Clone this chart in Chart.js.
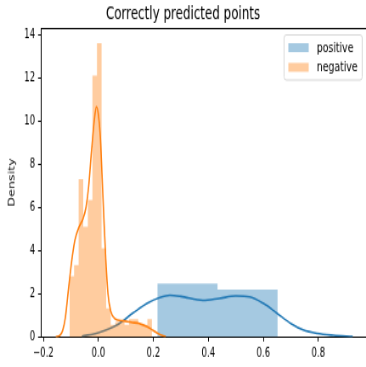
<!DOCTYPE html>
<html>
<head>
<meta charset="utf-8">
<script src="https://cdn.jsdelivr.net/npm/chart.js@4.4.1/dist/chart.umd.min.js"></script>
<style>
  html, body { margin: 0; padding: 0; background: #fff; width: 366px; height: 367px; overflow: hidden; }
  /* the reference figure was resized to 366x367 from a wider, shorter figure */
  #distChart { display: block; transform-origin: 0 0; transform: scale(0.8492, 1.2699); }
</style>
</head>
<body>
<canvas id="distChart" width="431" height="289"></canvas>
<script>
// values (density scale)
const seriesLabels = ['positive', 'negative'];

// histogram bin edges and bar heights
const posEdges = [0.2145, 0.4333, 0.652];
const posHeights = [2.48, 2.2];
const negEdges = [-0.105, -0.0883, -0.0717, -0.055, -0.0383, -0.0217, -0.005, 0.0117, 0.0283, 0.045,
                  0.0617, 0.0783, 0.095, 0.1117, 0.1283, 0.145, 0.1617, 0.1783, 0.195];
const negHeights = [2.82, 3.33, 7.31, 5.1, 6.34, 12.1, 13.6, 4.1, 1.33,
                    0.56, 0.7, 0.7, 0.56, 0.83, 0.83, 0.56, 0.56, 0.83];

// kde curves
const posKdeX = [-0.06, 0.0, 0.067, 0.127, 0.18, 0.224, 0.26, 0.3, 0.38, 0.44, 0.5, 0.55, 0.6, 0.65, 0.7, 0.745, 0.795, 0.855, 0.925];
const posKdeY = [0.04, 0.2, 0.55, 1.12, 1.58, 1.83, 1.93, 1.88, 1.7, 1.79, 1.9, 1.86, 1.56, 1.1, 0.63, 0.33, 0.17, 0.08, 0.02];
const negKdeX = [-0.155, -0.14, -0.13, -0.12, -0.108, -0.095, -0.085, -0.07, -0.055, -0.045, -0.035, -0.025, -0.015, -0.007,
                 0.0, 0.007, 0.013, 0.02, 0.027, 0.035, 0.045, 0.06, 0.09, 0.12, 0.15, 0.175, 0.2, 0.22, 0.245];
const negKdeY = [0.0, 0.08, 0.3, 0.9, 2.3, 3.7, 4.5, 5.1, 5.5, 6.0, 7.0, 8.6, 10.0, 10.66,
                 10.3, 9.3, 7.6, 5.5, 3.6, 2.0, 1.2, 0.85, 0.75, 0.68, 0.62, 0.5, 0.3, 0.14, 0.02];

const xTicks = [-0.2, 0.0, 0.2, 0.4, 0.6, 0.8];
const yTicks = [0, 2, 4, 6, 8, 10, 12, 14];

const BLUE = '#1f77b4', ORANGE = '#ff7f0e';
const BLUE_FILL = 'rgba(31,119,180,0.4)', ORANGE_FILL = 'rgba(255,127,14,0.4)';

// step outline for a histogram: each edge carries the height of the bin to its right
function histPoints(edges, heights) {
  return edges.map((e, i) => ({ x: e, y: i < heights.length ? heights[i] : 0 }));
}
function curvePoints(xs, ys) {
  return xs.map((x, i) => ({ x: x, y: ys[i] }));
}

Chart.defaults.font.family = "'DejaVu Sans', sans-serif";
Chart.defaults.color = '#000';

// top spine + matplotlib style legend box
const framePlugin = {
  id: 'frame',
  afterDraw(chart) {
    const { ctx, chartArea: a } = chart;
    ctx.save();
    ctx.strokeStyle = '#000';
    ctx.lineWidth = 1;
    ctx.beginPath();
    ctx.moveTo(a.left, a.top + 0.5);
    ctx.lineTo(a.right, a.top + 0.5);
    ctx.stroke();

    const x0 = a.right - 96.5, y0 = a.top + 5.5, w = 92, h = 35.5;
    ctx.fillStyle = 'rgba(255,255,255,0.8)';
    ctx.strokeStyle = '#d6d6d6';
    ctx.beginPath();
    ctx.roundRect(x0, y0, w, h, 2.5);
    ctx.fill();
    ctx.stroke();

    const hists = chart.data.datasets.filter(d => d.isHist);
    ctx.font = '11px "DejaVu Sans"';
    ctx.textBaseline = 'middle';
    ctx.textAlign = 'left';
    hists.forEach((d, i) => {
      const py = y0 + 6.5 + i * 15.5;
      ctx.fillStyle = d.backgroundColor;
      ctx.fillRect(x0 + 5, py, 24, 7);
      ctx.fillStyle = '#000';
      ctx.fillText(d.label, x0 + 38.5, py + 4);
    });
    ctx.restore();
  }
};

new Chart(document.getElementById('distChart'), {
  type: 'line',
  data: {
    datasets: [
      {
        label: seriesLabels[0], isHist: true, order: 4,
        data: histPoints(posEdges, posHeights),
        stepped: true, fill: 'origin', backgroundColor: BLUE_FILL,
        borderWidth: 0, borderColor: 'rgba(0,0,0,0)', pointRadius: 0
      },
      {
        label: seriesLabels[0] + ' kde', order: 3,
        data: curvePoints(posKdeX, posKdeY),
        borderColor: BLUE, borderWidth: 1.6, pointRadius: 0, fill: false,
        cubicInterpolationMode: 'monotone'
      },
      {
        label: seriesLabels[1], isHist: true, order: 2,
        data: histPoints(negEdges, negHeights),
        stepped: true, fill: 'origin', backgroundColor: ORANGE_FILL,
        borderWidth: 0, borderColor: 'rgba(0,0,0,0)', pointRadius: 0
      },
      {
        label: seriesLabels[1] + ' kde', order: 1,
        data: curvePoints(negKdeX, negKdeY),
        borderColor: ORANGE, borderWidth: 1.6, pointRadius: 0, fill: false,
        cubicInterpolationMode: 'monotone'
      }
    ]
  },
  options: {
    responsive: false,
    animation: false,
    events: [],
    layout: { padding: 0 },
    plugins: {
      legend: { display: false },
      tooltip: { enabled: false },
      title: {
        display: true,
        text: 'Correctly predicted points',
        font: { size: 14, weight: 'normal' },
        color: '#000',
        padding: { top: 2.6, bottom: 2.6 }
      }
    },
    scales: {
      x: {
        type: 'linear',
        min: -0.2085, max: 0.9735,
        afterBuildTicks: s => { s.ticks = xTicks.map(v => ({ value: v })); },
        afterFit: s => { s.height = 23.6; },
        ticks: {
          font: { size: 10 },
          padding: 3.5,
          maxRotation: 0,
          callback: v => v.toFixed(1).replace('-', '\u2212')
        },
        grid: { display: true, drawOnChartArea: false, drawTicks: true, tickLength: 3.5, tickColor: '#000' },
        border: { display: true, color: '#000', width: 1 }
      },
      y: {
        min: 0, max: 14.3,
        afterBuildTicks: s => { s.ticks = yTicks.map(v => ({ value: v })); },
        afterFit: s => { s.width = 48.3; },
        ticks: { font: { size: 10 }, padding: 3.5, callback: v => String(v) },
        grid: { display: true, drawOnChartArea: false, drawTicks: true, tickLength: 3.5, tickColor: '#000' },
        border: { display: true, color: '#000', width: 1 },
        title: { display: true, text: 'Density', font: { size: 10 }, padding: { top: 8, bottom: 0 } }
      }
    }
  },
  plugins: [framePlugin]
});
</script>
</body>
</html>
